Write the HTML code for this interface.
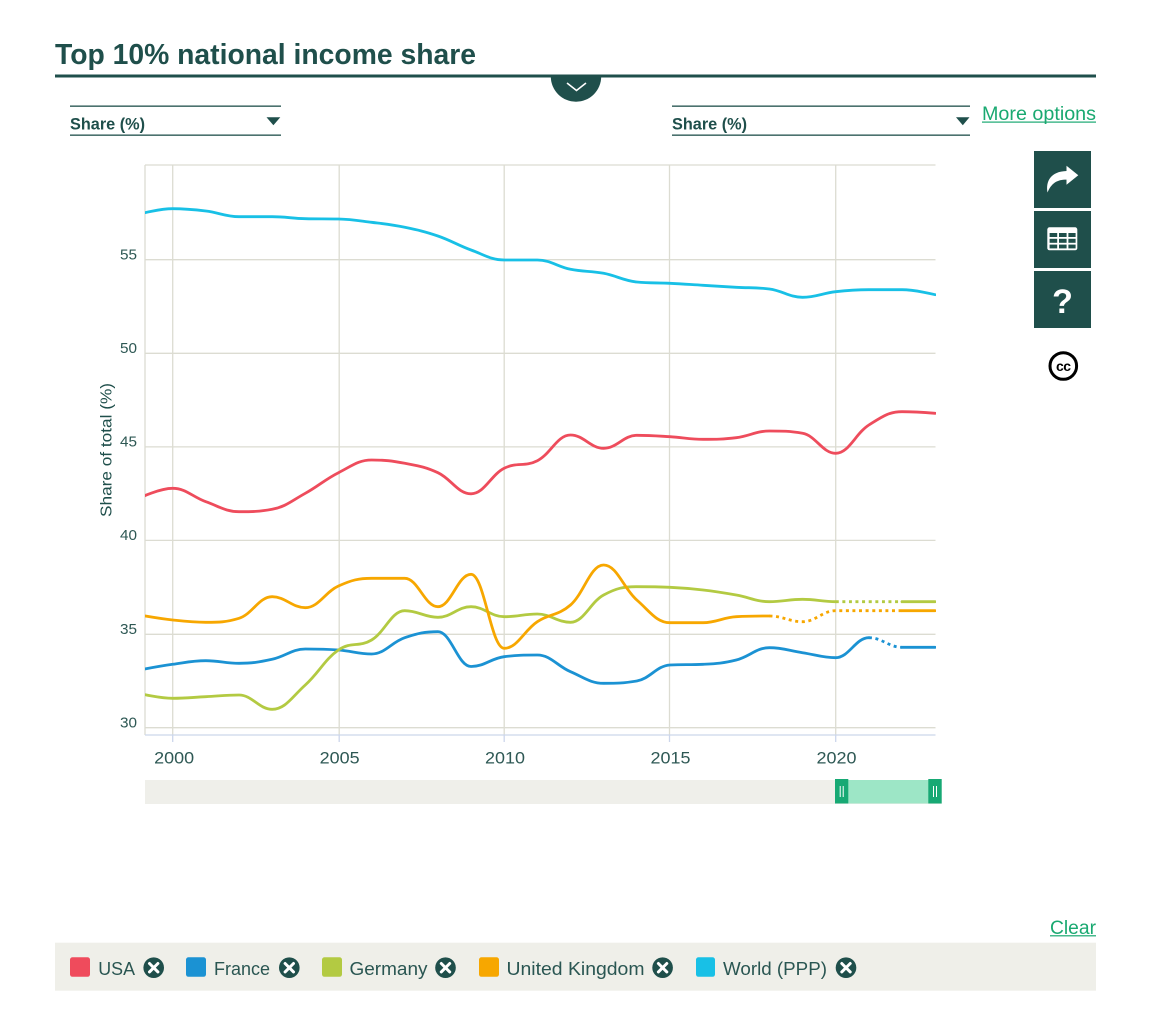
<!DOCTYPE html>
<html>
<head>
<meta charset="utf-8">
<style>
  html, body { margin:0; padding:0; background:#ffffff; }
  body { width:1159px; height:1033px; overflow:hidden; }
  svg { display:block; }
  text { font-family: "Liberation Sans", sans-serif; }
</style>
</head>
<body>
<svg id="chart" width="1159" height="1033" viewBox="0 0 1159 1033" xmlns="http://www.w3.org/2000/svg">
  <defs>
    <clipPath id="plotClip"><rect x="145" y="150" width="791" height="590"/></clipPath>
    <clipPath id="belowLine"><rect x="540" y="76" width="80" height="40"/></clipPath>
  </defs>

  <!-- Title -->
  <text x="55" y="64" font-size="29" font-weight="bold" fill="#1f4f4b" textLength="421" lengthAdjust="spacingAndGlyphs">Top 10% national income share</text>
  <rect x="55" y="74.5" width="1041" height="3" fill="#1f4f4b"/>
  <circle cx="576" cy="76.5" r="25.2" fill="#1f4f4b" clip-path="url(#belowLine)"/>
  <polyline points="567,83 576.5,90.5 586,83" fill="none" stroke="#ffffff" stroke-width="1.6"/>

  <!-- Left dropdown -->
  <rect x="70" y="105.5" width="211" height="1.3" fill="#1f4f4b"/>
  <rect x="70" y="134.5" width="211" height="1.3" fill="#1f4f4b"/>
  <text x="70" y="129.5" font-size="17" font-weight="bold" fill="#1f4f4b" textLength="75" lengthAdjust="spacingAndGlyphs">Share (%)</text>
  <polygon points="266.5,117.3 280.3,117.3 273.4,125.3" fill="#1f4f4b"/>

  <!-- Right dropdown -->
  <rect x="672" y="105.5" width="298" height="1.3" fill="#1f4f4b"/>
  <rect x="672" y="134.5" width="298" height="1.3" fill="#1f4f4b"/>
  <text x="672" y="129.5" font-size="17" font-weight="bold" fill="#1f4f4b" textLength="75" lengthAdjust="spacingAndGlyphs">Share (%)</text>
  <polygon points="956,117.3 969.5,117.3 962.8,125.3" fill="#1f4f4b"/>

  <!-- More options -->
  <text x="982" y="120" font-size="19" fill="#1aa971" textLength="114" lengthAdjust="spacingAndGlyphs">More options</text>
  <rect x="982" y="121.5" width="114" height="1.2" fill="#1aa971"/>

  <!-- Side buttons -->
  <rect x="1034" y="151" width="57" height="57" fill="#1f4f4b"/>
  <path d="M1047.5,192.5 C1045.5,181 1051,171.5 1066.5,171 L1066.5,165.8 L1078.3,175.3 L1066.5,184.8 L1066.5,179.6 C1057,179.6 1051.5,183 1047.5,192.5 Z" fill="#ffffff"/>
  <rect x="1034" y="211" width="57" height="57" fill="#1f4f4b"/>
  <rect x="1047.3" y="227.3" width="30" height="23" rx="2.2" fill="#ffffff"/>
  <g fill="#1f4f4b">
    <rect x="1049.6" y="233" width="7.6" height="4"/>
    <rect x="1059" y="233" width="7.6" height="4"/>
    <rect x="1068.4" y="233" width="7.2" height="4"/>
    <rect x="1049.6" y="238.8" width="7.6" height="4"/>
    <rect x="1059" y="238.8" width="7.6" height="4"/>
    <rect x="1068.4" y="238.8" width="7.2" height="4"/>
    <rect x="1049.6" y="244.6" width="7.6" height="3.8"/>
    <rect x="1059" y="244.6" width="7.6" height="3.8"/>
    <rect x="1068.4" y="244.6" width="7.2" height="3.8"/>
  </g>
  <rect x="1034" y="271" width="57" height="57" fill="#1f4f4b"/>
  <text x="1062.5" y="313" font-size="34" font-weight="bold" fill="#ffffff" text-anchor="middle">?</text>
  <circle cx="1063.3" cy="366" r="13.3" fill="#ffffff" stroke="#000000" stroke-width="3"/>
  <text x="1063.3" y="371" font-size="14" font-weight="bold" fill="#000000" text-anchor="middle" letter-spacing="-0.5">cc</text>

  <!-- Grid -->
  <g stroke="#dcdcd2" stroke-width="1.3" fill="none">
    <line x1="145" y1="165" x2="935.5" y2="165"/>
    <line x1="145" y1="259.7" x2="935.5" y2="259.7"/>
    <line x1="145" y1="353.3" x2="935.5" y2="353.3"/>
    <line x1="145" y1="446.9" x2="935.5" y2="446.9"/>
    <line x1="145" y1="540.4" x2="935.5" y2="540.4"/>
    <line x1="145" y1="634.3" x2="935.5" y2="634.3"/>
    <line x1="145" y1="727.7" x2="935.5" y2="727.7"/>
    <line x1="145" y1="165" x2="145" y2="735"/>
    <line x1="172.7" y1="165" x2="172.7" y2="735"/>
    <line x1="339.2" y1="165" x2="339.2" y2="735"/>
    <line x1="504.2" y1="165" x2="504.2" y2="735"/>
    <line x1="669.5" y1="165" x2="669.5" y2="735"/>
    <line x1="835.7" y1="165" x2="835.7" y2="735"/>
  </g>
  <!-- x axis line and ticks -->
  <g stroke="#ccd6eb" stroke-width="1.3">
    <line x1="145" y1="735" x2="935.5" y2="735"/>
    <line x1="172.7" y1="735" x2="172.7" y2="742"/>
    <line x1="339.2" y1="735" x2="339.2" y2="742"/>
    <line x1="504.2" y1="735" x2="504.2" y2="742"/>
    <line x1="669.5" y1="735" x2="669.5" y2="742"/>
    <line x1="835.7" y1="735" x2="835.7" y2="742"/>
  </g>

  <!-- Y labels -->
  <g font-size="15" fill="#2e5854" text-anchor="end">
    <text x="137" y="259.3" textLength="17" lengthAdjust="spacingAndGlyphs">55</text>
    <text x="137" y="353" textLength="17" lengthAdjust="spacingAndGlyphs">50</text>
    <text x="137" y="446.5" textLength="17" lengthAdjust="spacingAndGlyphs">45</text>
    <text x="137" y="540" textLength="17" lengthAdjust="spacingAndGlyphs">40</text>
    <text x="137" y="634" textLength="17" lengthAdjust="spacingAndGlyphs">35</text>
    <text x="137" y="727.3" textLength="17" lengthAdjust="spacingAndGlyphs">30</text>
  </g>
  <text transform="translate(111.5,450) rotate(-90)" text-anchor="middle" font-size="16" fill="#1f4f4b" textLength="134" lengthAdjust="spacingAndGlyphs">Share of total (%)</text>

  <!-- X labels -->
  <g font-size="16.5" fill="#2e5854" text-anchor="middle">
    <text x="174.2" y="763.3" textLength="40" lengthAdjust="spacingAndGlyphs">2000</text>
    <text x="339.7" y="763.3" textLength="40" lengthAdjust="spacingAndGlyphs">2005</text>
    <text x="505" y="763.3" textLength="40" lengthAdjust="spacingAndGlyphs">2010</text>
    <text x="670.5" y="763.3" textLength="40" lengthAdjust="spacingAndGlyphs">2015</text>
    <text x="836.5" y="763.3" textLength="40" lengthAdjust="spacingAndGlyphs">2020</text>
  </g>

  <!-- series -->
  <g id="series" clip-path="url(#plotClip)" fill="none" stroke-width="2.8"></g>

  <!-- Navigator -->
  <rect x="145" y="780" width="796.7" height="24" fill="#efefea"/>
  <rect x="848" y="780" width="80.5" height="23.5" fill="#9de6c6"/>
  <rect x="835" y="779" width="13.3" height="24.5" fill="#17a974"/>
  <rect x="928.3" y="779" width="13.4" height="24.5" fill="#17a974"/>
  <g stroke="#ffffff" stroke-width="1">
    <line x1="840.2" y1="786" x2="840.2" y2="797"/>
    <line x1="843.2" y1="786" x2="843.2" y2="797"/>
    <line x1="933.5" y1="786" x2="933.5" y2="797"/>
    <line x1="936.5" y1="786" x2="936.5" y2="797"/>
  </g>

  <!-- Clear -->
  <text x="1050" y="934" font-size="19" fill="#1aa971" textLength="46" lengthAdjust="spacingAndGlyphs">Clear</text>
  <rect x="1050" y="935.2" width="46" height="1.2" fill="#1aa971"/>

  <!-- Legend -->
  <rect x="55" y="942.7" width="1041" height="48" fill="#efefe9"/>
  <g font-size="18.5" fill="#2a5652">
    <rect x="70" y="957.3" width="20" height="19.5" rx="2.5" fill="#ef4b5c"/>
    <text x="98.3" y="975" textLength="36.7" lengthAdjust="spacingAndGlyphs">USA</text>
    <rect x="186" y="957.3" width="20" height="19.5" rx="2.5" fill="#1b92d3"/>
    <text x="214" y="975" textLength="56" lengthAdjust="spacingAndGlyphs">France</text>
    <rect x="322" y="957.3" width="20" height="19.5" rx="2.5" fill="#b3ca42"/>
    <text x="349.5" y="975" textLength="78" lengthAdjust="spacingAndGlyphs">Germany</text>
    <rect x="479" y="957.3" width="20" height="19.5" rx="2.5" fill="#f7a700"/>
    <text x="506.5" y="975" textLength="138" lengthAdjust="spacingAndGlyphs">United Kingdom</text>
    <rect x="696" y="957.3" width="19" height="19.5" rx="2.5" fill="#18c0e6"/>
    <text x="723" y="975" textLength="104" lengthAdjust="spacingAndGlyphs">World (PPP)</text>
  </g>
  <g id="closers"></g>
</svg>

<script>
(function(){
  var NS = "http://www.w3.org/2000/svg";
  // close icons
  var cl = document.getElementById("closers");
  [153.7, 289.3, 445.5, 662.6, 846].forEach(function(cx){
    var c = document.createElementNS(NS, "circle");
    c.setAttribute("cx", cx); c.setAttribute("cy", 967.7); c.setAttribute("r", 10.3);
    c.setAttribute("fill", "#1f4f4b"); cl.appendChild(c);
    var p = document.createElementNS(NS, "path");
    var d = 4.2, cy = 967.7;
    p.setAttribute("d", "M"+(cx-d)+","+(cy-d)+" L"+(cx+d)+","+(cy+d)+" M"+(cx+d)+","+(cy-d)+" L"+(cx-d)+","+(cy+d));
    p.setAttribute("stroke", "#ffffff"); p.setAttribute("stroke-width", "3");
    p.setAttribute("stroke-linecap", "round"); cl.appendChild(p);
  });

  function X(i){ return 172.7 + (i-1)*33.15; } // i=0 -> 1999
  // segment k runs from index k-1 to k (index 0 = 1999)
  var series = [
    {color:"#ee4c5c", dotted:[], y:[498,488.3,501.7,511.7,509.3,493.3,472.7,460,463.3,472.7,493.8,468.3,460.7,435,448.3,435.3,436.7,439.3,437.7,431,433.3,453.3,425,411.7,413.3]},
    {color:"#1b92d3", dotted:[23], y:[670,664.3,660.7,663.3,659.3,649,650,654,637.7,631.7,666.5,656.7,655,671.7,683.3,681,665,664.3,660,647.7,652.7,657.7,637.7,647.3,647.3]},
    {color:"#b3ca42", dotted:[22,23], y:[693.5,698.3,696.7,695,709.3,685,650,640,610.7,617.3,606.7,616.7,614,622.3,595,586.7,587.3,590,595,601.7,599.3,601.7,601.7,601.7,601.7]},
    {color:"#f7a700", dotted:[20,21,22,23], y:[615,620,622.3,618.3,596.7,607.7,586,578.3,578.3,606.7,574.3,648.3,621.7,605,565,600,622.7,622.7,616.7,616,621.7,610.7,610.7,610.7,610.7]},
    {color:"#18c0e6", dotted:[], y:[214,208.7,211,216.7,216.7,218.7,219,222.3,227.3,236,250,260,260,269.3,273.3,282,283.3,285.3,287.3,289,297.3,291.7,289.7,289.7,294.7]}
  ];
  var g = document.getElementById("series");
  function f(v){ return v.toFixed(2); }
  series.forEach(function(s){
    var pts = s.y.map(function(y,i){ return [X(i), y]; });
    var n = pts.length, sm = 1.5, den = 2.5, L = [], R = [];
    for (var i=0;i<n;i++){
      var x = pts[i][0], y = pts[i][1];
      if (i===0 || i===n-1){ L[i]=[x,y]; R[i]=[x,y]; continue; }
      var lx=pts[i-1][0], ly=pts[i-1][1], nx=pts[i+1][0], ny=pts[i+1][1];
      var lcx=(sm*x+lx)/den, lcy=(sm*y+ly)/den, rcx=(sm*x+nx)/den, rcy=(sm*y+ny)/den;
      var corr=0;
      if (rcx!==lcx) corr=((rcy-lcy)*(rcx-x))/(rcx-lcx)+y-rcy;
      lcy+=corr; rcy+=corr;
      if (lcy>ly && lcy>y){ lcy=Math.max(ly,y); rcy=2*y-lcy; }
      else if (lcy<ly && lcy<y){ lcy=Math.min(ly,y); rcy=2*y-lcy; }
      if (rcy>ny && rcy>y){ rcy=Math.max(ny,y); lcy=2*y-rcy; }
      else if (rcy<ny && rcy<y){ rcy=Math.min(ny,y); lcy=2*y-rcy; }
      L[i]=[lcx,lcy]; R[i]=[rcx,rcy];
    }
    var runs = [], cur = null;
    for (var k=1;k<n;k++){
      var dot = s.dotted.indexOf(k) >= 0;
      var seg = " C"+f(R[k-1][0])+","+f(R[k-1][1])+" "+f(L[k][0])+","+f(L[k][1])+" "+f(pts[k][0])+","+f(pts[k][1]);
      if (!cur || cur.dot !== dot){
        cur = {dot:dot, d:"M"+f(pts[k-1][0])+","+f(pts[k-1][1])+seg};
        runs.push(cur);
      } else {
        cur.d += seg;
      }
    }
    runs.forEach(function(r){
      var p = document.createElementNS(NS, "path");
      p.setAttribute("d", r.d);
      p.setAttribute("stroke", s.color);
      p.setAttribute("stroke-width", "2.8");
      p.setAttribute("fill", "none");
      if (r.dot){
        p.setAttribute("stroke-dasharray", "3,3.6");
        p.setAttribute("stroke-linecap", "butt");
      } else {
        p.setAttribute("stroke-linecap", "round");
        p.setAttribute("stroke-linejoin", "round");
      }
      g.appendChild(p);
    });
  });
})();
</script>
</body>
</html>
